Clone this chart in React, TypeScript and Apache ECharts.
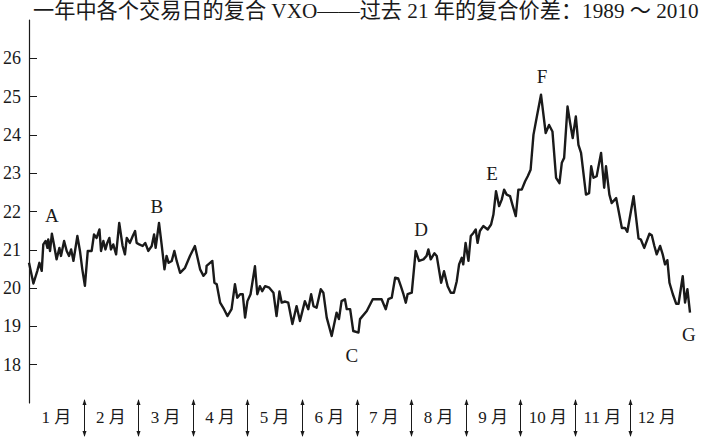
import React, { useEffect, useRef } from "react";
import * as echarts from "echarts";

const titleText = "一年中各个交易日的复合 VXO——过去 21 年的复合价差：1989 ～ 2010";

const yTicks = [18, 19, 20, 21, 22, 23, 24, 25, 26];
const monthLabels = ["1 月", "2 月", "3 月", "4 月", "5 月", "6 月", "7 月", "8 月", "9 月", "10 月", "11 月", "12 月"];
const monthBoundaries = [21, 42, 63, 84, 105, 126, 147, 168, 189, 210, 231];

const tradingDay = [
  0, 1.7, 3.2, 4.0, 4.9, 5.5, 6.4, 7.1, 7.4, 8.1, 8.8, 9.6, 10.6, 11.7, 12.3, 13.5, 14.5, 15.4, 16.2, 17.1,
  18.6, 19.6, 20.5, 21.5, 22.6, 24.1, 25.0, 26.0, 27.1, 27.7, 28.6, 29.4, 30.1, 30.9, 31.5, 32.4, 33.5, 34.7,
  36.0, 36.9, 37.6, 38.8, 39.9, 40.8, 41.4, 42.4, 43.7, 44.7, 45.9, 47.2, 48.1, 48.7, 50.0, 51.0, 52.1, 52.9,
  53.7, 54.9, 55.9, 56.8, 58.1, 60.0, 61.9, 63.8, 65.8, 67.1, 68.1, 68.3, 70.5, 71.3, 72.2, 73.5, 75.0, 76.3,
  77.9, 79.2, 80.1, 81.2,
  82.2, 83.1, 84.0, 85.2, 86.9, 87.8, 88.8, 89.7, 90.8, 92.4, 94.0, 95.2, 96.3, 97.2, 98.5, 99.7, 101.3,
  102.9, 104.2, 106.1, 107.4, 108.5, 109.4, 110.6, 112.2, 113.2, 114.5, 116.4, 118.3, 119.2, 120.2, 121.5,
  122.2, 123.5, 124.7, 126.7, 127.3, 129.9, 132.2, 135.6, 137.2, 138.2, 139.5, 140.8, 142.0, 143.0, 144.0,
  144.9, 145.6, 147.2,
  148.7, 150.0, 151.7, 152.9, 153.6, 154.5, 155.9, 156.8, 158.5, 159.6, 161.0, 162.2, 163.4, 164.5, 165.4,
  166.4, 167.0, 167.9, 169.0, 169.9, 170.9, 171.8, 172.5, 173.4, 174.7, 176.4, 177.7, 178.6, 179.6, 180.8,
  181.8, 182.7, 183.7, 185.0, 185.9, 187.2, 188.2, 189.5, 190.8, 191.8, 192.9, 194.0, 195.2, 196.9, 198.7,
  200.0, 201.3,
  202.7, 204.0, 204.9, 205.8, 207.1, 208.1, 209.1, 210.3, 211.3, 212.3, 214.2, 215.4, 216.2, 217.1, 218.3,
  220.0, 221.2, 221.9, 223.2, 224.1, 225.8, 228.0, 229.2, 230.1, 232.5, 234.4, 235.3, 236.6, 238.6, 239.5,
  240.5, 241.4, 242.7, 243.7, 244.6, 245.5, 246.3, 247.6, 248.9, 249.8, 251.4, 252.3, 253.2, 254.2,
];

const compositeVxo = [
  20.66, 20.12, 20.45, 20.66, 20.45, 21.14, 21.23, 21.05, 21.27, 20.97, 21.42, 21.14, 20.75, 21.05, 20.84, 21.23, 20.97, 20.84, 21.01, 20.71,
  21.36, 20.97, 20.49, 20.06, 20.97, 20.97, 21.40, 21.31, 21.53, 20.97, 21.23, 21.01, 21.18, 21.31, 21.01, 21.14, 20.88, 21.70,
  21.10, 20.88, 21.31, 21.18, 21.36, 21.49, 21.18, 21.14, 21.10, 21.18, 20.97, 21.10, 21.40, 21.05, 21.70, 21.14, 20.49, 20.84,
  20.66, 20.71, 20.97, 20.71, 20.40, 20.53, 20.84, 21.10, 20.49, 20.32, 20.40, 20.58, 20.71, 20.14, 20.10, 19.62, 19.45, 19.27,
  19.45, 20.10, 19.75, 19.84,
  19.84, 19.23, 19.66, 19.84, 20.57, 19.84, 20.05, 19.92, 20.05, 20.01, 19.88, 19.27, 19.91, 19.62, 19.65, 19.62, 19.06,
  19.53, 19.14, 19.66, 19.45, 19.84, 19.53, 19.49, 19.97, 19.88, 19.23, 18.75, 19.36, 19.19, 19.66, 19.71,
  19.45, 19.45, 18.88, 18.84, 19.19, 19.40, 19.71, 19.71, 19.45, 19.71, 19.75, 20.27, 20.25, 20.05, 19.84,
  19.62, 19.84, 19.88,
  20.97, 20.71, 20.75, 20.84, 21.01, 20.75, 20.91, 20.84, 20.14, 20.44, 20.05, 19.88, 19.88, 20.18, 20.62,
  20.79, 20.62, 21.18, 20.71, 21.36, 21.44, 21.53, 21.18, 21.49, 21.62, 21.53, 21.66, 21.92, 22.53, 22.14,
  22.31, 22.57, 22.44, 22.40, 22.18, 21.88, 22.57, 22.57, 22.79, 22.92, 23.09, 24.00, 24.44, 25.05, 24.05,
  24.26, 24.09,
  22.88, 22.74, 23.27, 23.40, 24.74, 24.31, 23.92, 24.48, 23.74, 23.53, 22.44, 22.48, 23.18, 22.88, 22.92,
  23.53, 22.62, 23.18, 22.44, 22.22, 22.35, 21.57, 21.57, 21.47, 22.40, 21.30, 21.27, 21.05, 21.42, 21.38,
  21.10, 20.88, 21.10, 20.88, 20.62, 20.73, 20.14, 19.84, 19.59, 19.59, 20.31, 19.62, 19.97, 19.36,
];

const pointNames = ["A", "B", "C", "D", "E", "F", "G"];
const pointDays = [8.8, 49.2, 124.2, 150.8, 178.1, 197.3, 253.8];
const pointLevels = [21.9, 22.14, 18.23, 21.54, 23.0, 25.52, 18.8];

const FONT = '"Liberation Serif", "Noto Sans CJK SC", serif';
const INK = "#1a1a1a";

export default function App() {
  const ref = useRef<HTMLDivElement | null>(null);

  useEffect(() => {
    if (!ref.current) return;
    const chart = echarts.init(ref.current, null, { renderer: "svg" });
    const halfMonth = 10.5;
    chart.setOption({
      animation: false,
      backgroundColor: "#ffffff",
      title: {
        text: titleText,
        left: 33,
        top: 0,
        padding: 0,
        textStyle: { fontFamily: FONT, fontSize: 21.2, lineHeight: 21, fontWeight: "normal", color: INK },
      },
      grid: { left: 29, right: 15, top: 20, bottom: 34, containLabel: false },
      xAxis: {
        type: "value",
        min: 0,
        max: 254.2,
        interval: halfMonth,
        axisLine: { show: false },
        axisTick: { show: false },
        splitLine: { show: false },
        axisLabel: {
          margin: 6,
          fontFamily: FONT,
          fontSize: 17,
          color: INK,
          showMinLabel: false,
          showMaxLabel: false,
          formatter: (v: number) => {
            const k = Math.round(v / halfMonth);
            if (k % 2 === 1) return monthLabels[(k - 1) / 2] || "";
            return "";
          },
        },
      },
      yAxis: {
        type: "value",
        min: 17,
        max: 27,
        interval: 1,
        axisLine: { show: true, lineStyle: { color: INK, width: 1.2 } },
        axisTick: { show: true, inside: true, length: 8, lineStyle: { color: INK, width: 1 }, customValues: yTicks },
        splitLine: { show: false },
        axisLabel: {
          margin: 8,
          fontFamily: FONT,
          fontSize: 18,
          color: INK,
          customValues: yTicks,
        },
      },
      series: [
        {
          type: "line",
          data: tradingDay.map((d, i) => [d, compositeVxo[i]]),
          showSymbol: false,
          symbol: "none",
          lineStyle: { color: INK, width: 2.4, join: "round" },
          silent: true,
          z: 3,
        },
        {
          type: "custom",
          clip: false,
          silent: true,
          data: monthBoundaries.map((d) => [d, 17]),
          renderItem: (_params: any, api: any) => {
            const p = api.coord([api.value(0), api.value(1)]);
            const x = Math.round(p[0]) + 0.5;
            const top = p[1] - 3;
            const bot = p[1] + 33;
            return {
              type: "group",
              children: [
                { type: "line", shape: { x1: x, y1: top, x2: x, y2: bot }, style: { stroke: INK, lineWidth: 1 } },
                { type: "polygon", shape: { points: [[x, top - 1], [x - 2, top + 5], [x + 2, top + 5]] }, style: { fill: INK } },
                { type: "polygon", shape: { points: [[x, bot + 1], [x - 2, bot - 5], [x + 2, bot - 5]] }, style: { fill: INK } },
              ],
            };
          },
        },
      ],
    });

    const labels = pointNames.map((n, i) => {
      const p = chart.convertToPixel({ gridIndex: 0 }, [pointDays[i], pointLevels[i]]) as number[];
      return {
        type: "text",
        x: p[0],
        y: p[1],
        silent: true,
        z: 10,
        style: {
          text: n,
          fill: INK,
          font: `19px ${FONT}`,
          align: "center",
          verticalAlign: "middle",
        },
      };
    });
    chart.setOption({ graphic: labels });

    return () => chart.dispose();
  }, []);

  return (
    <div
      ref={ref}
      style={{ position: "fixed", left: 0, top: 0, width: 705, height: 437, background: "#fff" }}
    />
  );
}
